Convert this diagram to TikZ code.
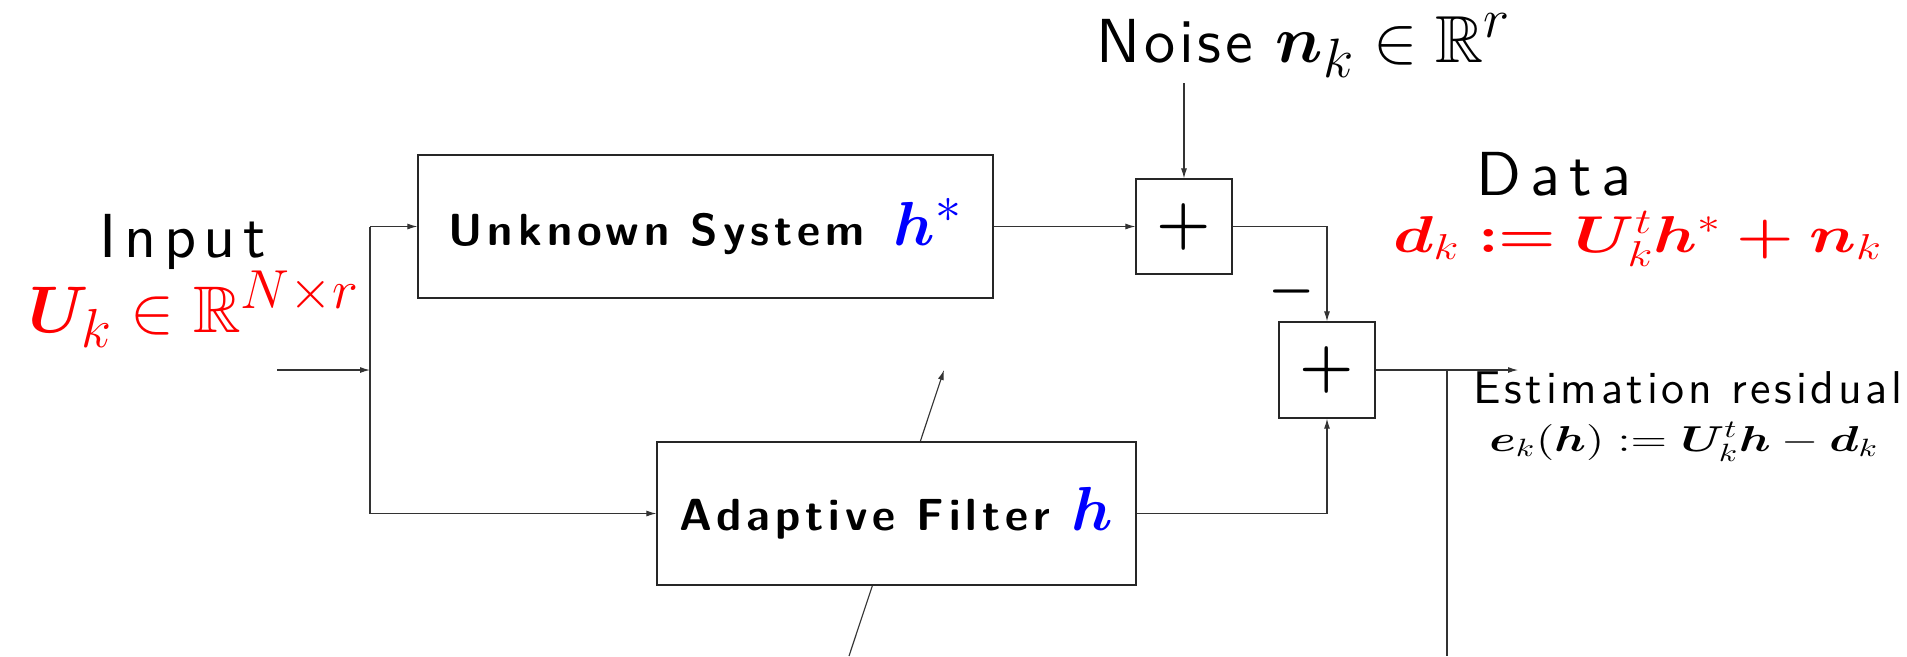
\documentclass[tikz,border=0pt]{standalone}
\usepackage{amsmath,amssymb,bm}
\usepackage{fontspec}
\newfontfamily\lsans{lmsans10-regular.otf}
\newfontfamily\bsans{lmsans10-bold.otf}[LetterSpace=11]
\usetikzlibrary{arrows.meta}
\tikzset{
  blk/.style={draw=black!85, fill=white, line width=0.5pt, rectangle, inner sep=0pt},
  conn/.style={draw=black!80, line width=0.45pt},
  arr/.style={conn, -{Latex[length=4pt,width=2.4pt]}},
  lbl/.style={inner sep=0pt, anchor=base},
}
\begin{document}
\begin{tikzpicture}[x=0.4pt,y=-0.4pt]
\useasboundingbox (0,0) rectangle (1907,656);
% diagonal adaptation arrow (drawn under the filter box)
\coordinate (dgA) at (849,656);
\coordinate (dgB) at (944,370);
\draw[arr] (dgA) -- (dgB);
% blocks
\node[blk, minimum width=230pt, minimum height=57.2pt] (us) at (705.5,226.5)
  {\bsans\fontsize{18}{20}\selectfont Unknown System\, {\color{blue}\fontsize{28}{30}\selectfont$\bm{h}^*$}};
\node[blk, minimum width=191.6pt, minimum height=57.2pt] (af) at (896.5,513.5)
  {\bsans\fontsize{18}{20}\selectfont Adaptive Filter {\color{blue}\fontsize{27}{28}\selectfont$\bm{h}$}};
\node[blk, minimum width=38.4pt, minimum height=38pt] (s1) at (1184,226.5)
  {\fontsize{26}{26}\selectfont$\bm{+}$};
\node[blk, minimum width=38.4pt, minimum height=38.4pt] (s2) at (1327,370)
  {\fontsize{26}{26}\selectfont$\bm{+}$};
% labels
\node[lbl] (inp) at (183,257) {\lsans\addfontfeature{LetterSpace=12}\Huge Input};
\node[lbl, text=red] (uk) at (194,332) {\scalebox{1.06}{\Huge$\bm{U}_k \in \mathbb{R}^{N\times r}$}};
\node[lbl] (noise) at (1304,62) {{\lsans\addfontfeature{LetterSpace=6}\Huge Noise}\hspace{9pt}\scalebox{1.07}{\Huge$\bm{n}_k \in \mathbb{R}^r$}};
\node[lbl] (data) at (1554,195) {\lsans\addfontfeature{LetterSpace=15}\Huge Data};
\node[lbl, text=red] (dform) at (1638,252)
  {\scalebox{1.27}[1]{\fontsize{22}{26}\selectfont$\bm{d}_k\bm{:=}\bm{U}_k^t\bm{h}^*\bm{+}\bm{n}_k$}};
\node[lbl] (est) at (1688,403) {\lsans\addfontfeature{LetterSpace=8}\fontsize{18.4}{20}\selectfont Estimation residual};
\node[lbl] (eform) at (1684,451)
  {\scalebox{1.33}[1]{\fontsize{14.6}{16}\selectfont$\bm{e}_k(\bm{h}) := \bm{U}_k^t\bm{h} - \bm{d}_k$}};
\node[inner sep=0pt] (minus) at (1292,292) {\huge$\bm{-}$};
% connectors
\coordinate (in) at (277,370);
\coordinate (fork) at (370,370);
\coordinate (ntop) at (1184,83);
\coordinate (out) at (1518,370);
\coordinate (tap) at (1447,370);
\coordinate (tapb) at (1447,656);
\draw[arr] (in) -- (fork);
\draw[conn] (fork |- us.west) -- (fork |- af.west);
\draw[arr] (fork |- us.west) -- (us.west);
\draw[arr] (fork |- af.west) -- (af.west);
\draw[arr] (us.east) -- (s1.west);
\draw[arr] (ntop) -- (s1.north);
\draw[arr] (s1.east) -| (s2.north);
\draw[arr] (af.east) -| (s2.south);
\draw[arr] (s2.east) -- (out);
\draw[conn] (tap) -- (tapb);
\end{tikzpicture}
\end{document}
